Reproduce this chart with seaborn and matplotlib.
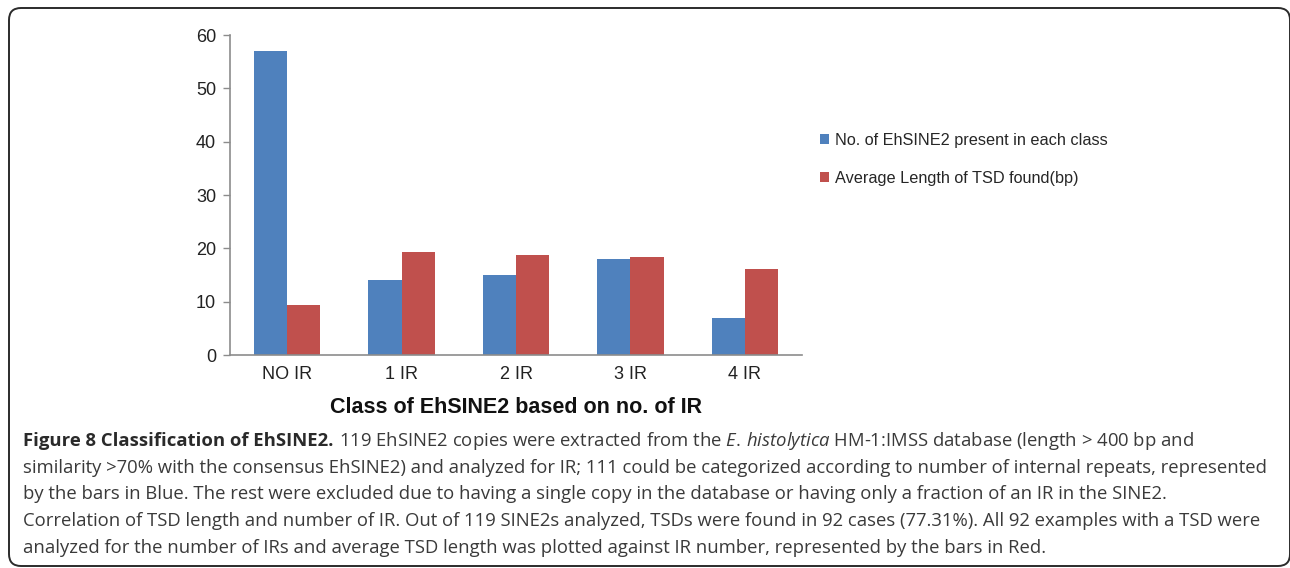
import pandas as pd
import matplotlib.pyplot as plt
import matplotlib.patches as mpatches
from matplotlib.transforms import IdentityTransform
import seaborn as sns

# Values
classes = ['NO IR', '1 IR', '2 IR', '3 IR', '4 IR']
n_copies = [57, 14, 15, 18, 7]
avg_tsd = [9.3, 19.4, 18.7, 18.4, 16.2]
series = ['No. of EhSINE2 present in each class', 'Average Length of TSD found(bp)']

df = pd.DataFrame({
    'Class': classes * 2,
    'Value': n_copies + avg_tsd,
    'Series': [series[0]] * len(classes) + [series[1]] * len(classes),
})

sns.set_style('white')
plt.rcParams['font.family'] = ['Liberation Sans', 'DejaVu Sans']
plt.rcParams['mathtext.fontset'] = 'custom'
plt.rcParams['mathtext.rm'] = 'Open Sans'
plt.rcParams['mathtext.it'] = 'Open Sans:italic'
plt.rcParams['mathtext.bf'] = 'Open Sans:bold'

W, H = 1290, 568
fig = plt.figure(figsize=(W / 100, H / 100), dpi=100)
ax = fig.add_axes([230 / W, 1 - 355 / H, 572 / W, 320 / H])

sns.barplot(data=df, x='Class', y='Value', hue='Series', order=classes,
            palette=['#4F81BD', '#C0504D'], width=0.58, gap=0,
            saturation=1, edgecolor='none', ax=ax)

ax.set_xlim(-0.5, 4.5)
ax.set_ylim(0, 60)
ax.set_yticks(range(0, 61, 10))
ax.set_ylabel('')
ax.set_xlabel('Class of EhSINE2 based on no. of IR', fontsize=15.5,
              fontweight='bold', labelpad=10, color='#111111')
for side in ['top', 'right']:
    ax.spines[side].set_visible(False)
for side in ['left', 'bottom']:
    ax.spines[side].set_color('#8c8c8c')
    ax.spines[side].set_linewidth(1.2)
ax.tick_params(axis='y', length=5, width=1, color='#8c8c8c', pad=5,
               labelsize=13, labelcolor='#222222', left=True)
ax.tick_params(axis='x', length=0, pad=8, labelsize=13, labelcolor='#222222')

handles, labels = ax.get_legend_handles_labels()
ax.get_legend().remove()
fig.legend(handles, labels, loc='upper left', bbox_to_anchor=(813 / W, 1 - 126 / H),
           frameon=False, fontsize=11.7, labelspacing=1.45, handlelength=0.6,
           handleheight=0.6, handletextpad=0.35, borderaxespad=0)

# caption: bold title in a narrow face, then the body text
title = 'Figure 8 Classification of EhSINE2.'
first_line = (r'119 EhSINE2 copies were extracted from the $\mathit{E.\,histolytica}$ '
              'HM-1:IMSS database (length > 400 bp and')
caption = [
    'similarity >70% with the consensus EhSINE2) and analyzed for IR; 111 could be categorized '
    'according to number of internal repeats, represented',
    'by the bars in Blue. The rest were excluded due to having a single copy in the database or '
    'having only a fraction of an IR in the SINE2.',
    'Correlation of TSD length and number of IR. Out of 119 SINE2s analyzed, TSDs were found in '
    '92 cases (77.31%). All 92 examples with a TSD were',
    'analyzed for the number of IRs and average TSD length was plotted against IR number, '
    'represented by the bars in Red.',
]
line_y = [441, 468, 494, 521, 548]

t = fig.text(23 / W, 1 - line_y[0] / H, title, fontsize=13.3, fontweight='bold',
             family=['Liberation Sans Narrow', 'Open Sans'], color='#2a2a2a',
             va='center', ha='left')
ax.annotate(first_line, xy=(1, 0.5), xycoords=t, xytext=(4, 0),
            textcoords='offset points', fontsize=13.3, family='Open Sans',
            color='#3a3a3a', va='center', ha='left', annotation_clip=False)
for text, y in zip(caption, line_y[1:]):
    fig.text(23 / W, 1 - y / H, text, fontsize=13.3, family='Open Sans',
             color='#3a3a3a', va='center', ha='left')

# rounded frame around the figure
frame = mpatches.FancyBboxPatch((9, 2), 1281, 558,
                                boxstyle='round,pad=0,rounding_size=12',
                                transform=IdentityTransform(), fill=False,
                                edgecolor='#2b2b2b', linewidth=1.4)
fig.add_artist(frame)

fig.savefig('out.png', dpi=100)
